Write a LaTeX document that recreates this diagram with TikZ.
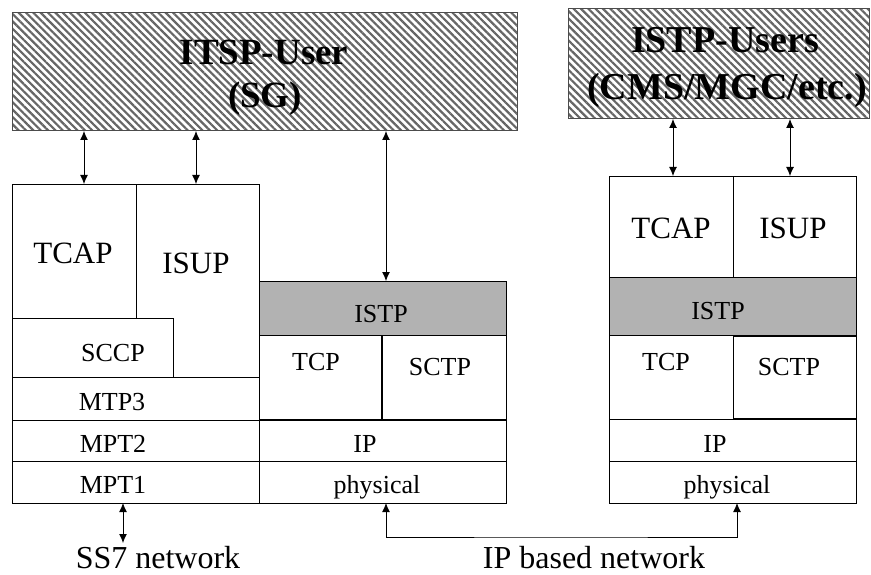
\documentclass[tikz,border=0pt]{standalone}
\usepackage{fontspec}
\setmainfont{Liberation Serif}
\usetikzlibrary{arrows.meta,patterns.meta}
\definecolor{shade}{HTML}{B2B2B2}
\tikzset{
  cell/.style={draw=black, line width=0.9pt, inner sep=0pt, outer sep=0pt},
  userbox/.style={draw=black!70, line width=1pt, inner sep=0pt, outer sep=0pt,
    pattern={Lines[angle=-45,distance=5.2pt,line width=2.2pt]}, pattern color=black!60},
  big/.style={anchor=base, inner sep=0pt, font=\fontsize{31}{31}\selectfont},
  mid/.style={anchor=base, inner sep=0pt, font=\fontsize{26}{26}\selectfont},
  head/.style={anchor=base, inner sep=0pt, font=\fontsize{37}{37}\selectfont\bfseries},
  net/.style={anchor=base, inner sep=0pt, font=\fontsize{32}{32}\selectfont},
  dbl/.style={line width=0.9pt, {Latex[length=9pt,width=8pt]}-{Latex[length=9pt,width=8pt]}}
}
\begin{document}
\begin{tikzpicture}[x=1pt,y=-1pt]
\useasboundingbox (0,0) rectangle (871,575);
% user boxes
\node[userbox, minimum width=505pt, minimum height=118pt] (topL) at (264.5,72) {};
\node[userbox, minimum width=301pt, minimum height=110pt] (topR) at (718.5,64) {};
\node[head] (tl1) at (264,65) {ITSP-User};
\node[head] (tl2) at (265,108) {(SG)};
\node[head, font=\fontsize{38}{38}\selectfont\bfseries] (tr1) at (725,53) {ISTP-Users};
\node[head, font=\fontsize{38}{38}\selectfont\bfseries] (tr2) at (727,100) {(CMS/MGC/etc.)};
% left stack
\node[cell, minimum width=124pt, minimum height=134pt] (tcapL) at (74,251) {};
\node[cell, minimum width=123pt, minimum height=193pt] (isupL) at (197.5,280.5) {};
\node[cell, fill=white, minimum width=161pt, minimum height=59pt] (sccpL) at (92.5,347.5) {};
\node[cell, minimum width=247pt, minimum height=43pt] (mtp3L) at (135.5,398.5) {};
\node[cell, fill=shade, minimum width=247pt, minimum height=54pt] (istpL) at (382.5,308) {};
\node[cell, minimum width=123pt, minimum height=85pt] (tcpL) at (320.5,377.5) {};
\node[cell, minimum width=124pt, minimum height=84pt] (sctpL) at (444,377) {};
\node[cell, minimum width=247pt, minimum height=41pt] (mpt2L) at (135.5,440.5) {};
\node[cell, minimum width=247pt, minimum height=41pt] (ipL) at (382.5,440.5) {};
\node[cell, minimum width=247pt, minimum height=42pt] (mpt1L) at (135.5,482) {};
\node[cell, minimum width=247pt, minimum height=42pt] (physL) at (382.5,482) {};
\draw[line width=1.6pt] (tcpL.south west) -- (tcpL.south east) -- (tcpL.north east);
% left texts
\node[big] (tTcapL) at (73,263) {TCAP};
\node[big] (tIsupL) at (196,273) {ISUP};
\node[mid] (tSccpL) at (113,361) {SCCP};
\node[mid] (tIstpL) at (381,322) {ISTP};
\node[mid] (tTcpL) at (316,370) {TCP};
\node[mid] (tSctpL) at (440,375) {SCTP};
\node[mid] (tMtp3L) at (112,410) {MTP3};
\node[mid] (tMpt2L) at (113,452) {MPT2};
\node[mid] (tIpL) at (365,452) {IP};
\node[mid] (tMpt1L) at (113,493) {MPT1};
\node[mid] (tPhysL) at (377,493) {physical};
% right stack
\node[cell, minimum width=124pt, minimum height=101pt] (tcapR) at (671,226.5) {};
\node[cell, minimum width=123pt, minimum height=101pt] (isupR) at (794.5,226.5) {};
\node[cell, fill=shade, minimum width=247pt, minimum height=58pt] (istpR) at (732.5,306) {};
\node[cell, minimum width=124pt, minimum height=84pt] (tcpR) at (671,377) {};
\node[cell, minimum width=123pt, minimum height=82pt] (sctpR) at (794.5,377) {};
\node[cell, minimum width=247pt, minimum height=42pt] (ipR) at (732.5,440) {};
\node[cell, minimum width=247pt, minimum height=42pt] (physR) at (732.5,482) {};
% right texts
\node[big] (tTcapR) at (671,238) {TCAP};
\node[big] (tIsupR) at (793,238) {ISUP};
\node[mid] (tIstpR) at (718,319) {ISTP};
\node[mid] (tTcpR) at (666,370) {TCP};
\node[mid] (tSctpR) at (789,375) {SCTP};
\node[mid] (tIpR) at (715,452) {IP};
\node[mid] (tPhysR) at (727,493) {physical};
% network labels
\node[net] (ss7) at (158,568) {SS7 network};
\node[net] (ipnet) at (594,568) {IP based network};
\coordinate (ss7end) at (123,543);
\coordinate (netmid) at (560,537);
% connectors
\draw[dbl] (topL.south -| 84,0) -- (tcapL.north -| 84,0);
\draw[dbl] (topL.south -| 196,0) -- (isupL.north -| 196,0);
\draw[dbl] (topL.south -| 386,0) -- (istpL.north -| 386,0);
\draw[dbl] (topR.south -| 673,0) -- (tcapR.north -| 673,0);
\draw[dbl] (topR.south -| 790,0) -- (isupR.north -| 790,0);
\draw[dbl] (mpt1L.south -| ss7end) -- (ss7end);
\draw[dbl] (physL.south -| 386,0) |- (netmid) -| (physR.south -| 737,0);
\end{tikzpicture}
\end{document}
